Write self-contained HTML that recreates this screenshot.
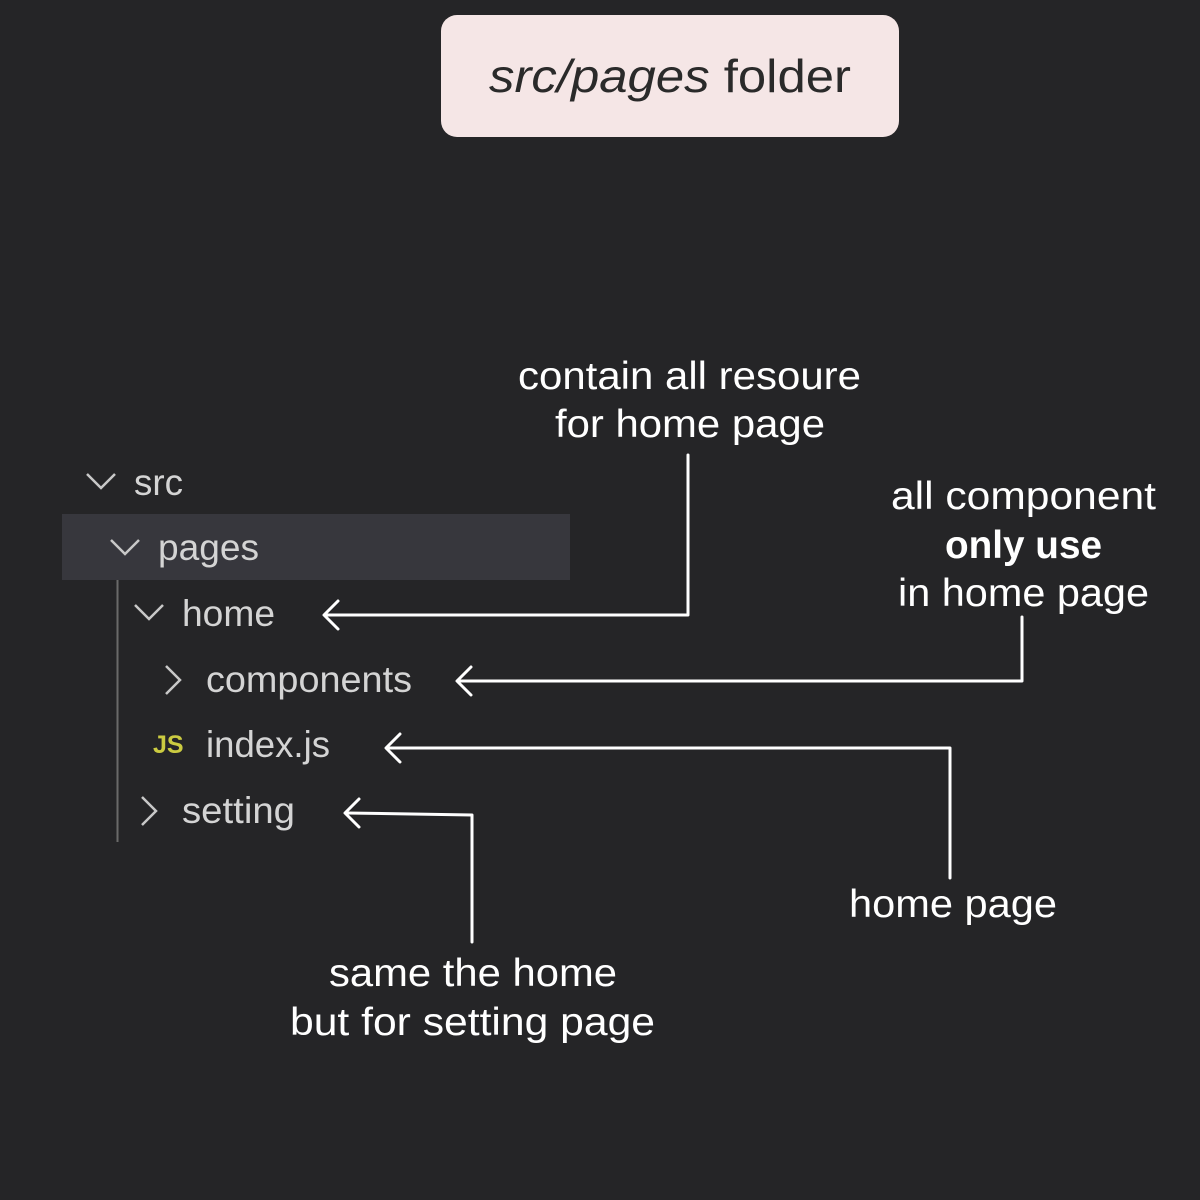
<!DOCTYPE html>
<html><head><style>
body{margin:0;background:#252527;}
</style></head><body>
<svg width="1200" height="1200" viewBox="0 0 1200 1200" xmlns="http://www.w3.org/2000/svg" style="display:block">
<rect width="1200" height="1200" fill="#252527"/>
<rect x="441" y="15" width="458" height="122" rx="16" fill="#f5e6e6"/>
<text x="489" y="92" textLength="362" lengthAdjust="spacingAndGlyphs" font-family="Liberation Sans, sans-serif" font-size="46" fill="#2a2a2a"><tspan font-style="italic">src/pages</tspan> folder</text>
<rect x="62" y="514" width="508" height="66" fill="#37373d"/>
<line x1="117.5" y1="580" x2="117.5" y2="842" stroke="#6a6a6a" stroke-width="2"/>
<g fill="none" stroke="#c8c8c8" stroke-width="2.5">
<polyline points="87,474 101,488 115,474"/>
<polyline points="111,540 125,554 139,540"/>
<polyline points="135,605 149,619 163,605"/>
<polyline points="166,666 180,680 166,694"/>
<polyline points="142,797 156,811 142,825"/>
</g>
<g font-family="Liberation Sans, sans-serif" font-size="37" fill="#d4d4d4" lengthAdjust="spacingAndGlyphs">
<text x="134" y="495" textLength="49" lengthAdjust="spacingAndGlyphs">src</text>
<text x="158" y="560" textLength="101" lengthAdjust="spacingAndGlyphs">pages</text>
<text x="182" y="626" textLength="93" lengthAdjust="spacingAndGlyphs">home</text>
<text x="206" y="692" textLength="206" lengthAdjust="spacingAndGlyphs">components</text>
<text x="206" y="757" textLength="124" lengthAdjust="spacingAndGlyphs">index.js</text>
<text x="182" y="823" textLength="113" lengthAdjust="spacingAndGlyphs">setting</text>
</g>
<text x="153" y="753" font-family="Liberation Sans, sans-serif" font-weight="bold" font-size="25" fill="#cbcb41">JS</text>
<g fill="none" stroke="#fff" stroke-width="3" stroke-linejoin="round" stroke-linecap="round">
<polyline points="688,455 688,615 326,615"/>
<polyline points="338,601 324,615 338,629"/>
<polyline points="1022,617 1022,681 459,681"/>
<polyline points="471,667 457,681 471,695"/>
<polyline points="950,878 950,748 388,748"/>
<polyline points="400,734 386,748 400,762"/>
<polyline points="472,942 472,815 347,813"/>
<polyline points="359,799 345,813 359,827"/>
</g>
<g font-family="Liberation Sans, sans-serif" font-size="39" fill="#fff">
<text x="518" y="389" textLength="343" lengthAdjust="spacingAndGlyphs">contain all resoure</text>
<text x="555" y="437" textLength="270" lengthAdjust="spacingAndGlyphs">for home page</text>
<text x="891" y="509" textLength="265" lengthAdjust="spacingAndGlyphs">all component</text>
<text x="945" y="558" textLength="157" lengthAdjust="spacingAndGlyphs" font-weight="bold">only use</text>
<text x="898" y="606" textLength="251" lengthAdjust="spacingAndGlyphs">in home page</text>
<text x="849" y="917" textLength="208" lengthAdjust="spacingAndGlyphs">home page</text>
<text x="329" y="986" textLength="288" lengthAdjust="spacingAndGlyphs">same the home</text>
<text x="290" y="1035" textLength="365" lengthAdjust="spacingAndGlyphs">but for setting page</text>
</g>
</svg>
</body></html>
